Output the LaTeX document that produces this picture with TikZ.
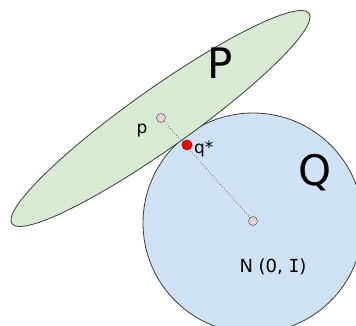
\documentclass[tikz,border=0pt]{standalone}
\usepackage{fontspec}
\setmainfont{DejaVu Sans}
\newfontfamily\monoI{DejaVu Sans Mono}
\usepackage{xcolor}
\usepackage{tikz}
\usetikzlibrary{positioning,calc}
\definecolor{pgreen}{RGB}{217, 234, 211}
\definecolor{qblue}{RGB}{207, 226, 243}
\definecolor{dotpink}{RGB}{234, 209, 220}
\definecolor{edgegray}{RGB}{60, 60, 60}
\tikzset{
  pregion/.style={
    draw=edgegray,
    line width=0.8pt,
    fill=pgreen
  },
  qregion/.style={
    draw=edgegray,
    line width=0.8pt,
    fill=qblue
  },
  sampledot/.style={
    circle,
    draw=black!60,
    line width=0.6pt,
    fill=dotpink,
    inner sep=0pt,
    minimum size=9pt
  },
  optdot/.style={
    circle,
    draw=red!60!black,
    line width=0.6pt,
    fill=red,
    inner sep=0pt,
    minimum size=10pt
  },
  distline/.style={
    draw=black!60,
    line width=0.7pt,
    dash pattern=on 0.8pt off 2.2pt
  }
}

\begin{document}
\begin{tikzpicture}[x=1pt, y=1pt]
  \useasboundingbox (0,0) rectangle (356,325);
  % the two distributions
  \draw[qregion] (253,102) circle (110);
  \draw[pregion, rotate around={35.3:(160.5,206.5)}] (160.5,206.5) ellipse (182 and 30);

  \node[font=\fontsize{42}{42}\selectfont] (plabel) at (220,262) {P};
  \node[font=\fontsize{42}{42}\selectfont] (qlabel) at (315,152) {Q};

  % points and their distance
  \node[sampledot] (p) at (161,207) {};
  \node[sampledot] (n) at (253,104) {};
  \draw[distline] (p) -- (n);
  \node[optdot] (qstar) at (187,180) {};

  \node[font=\fontsize{17}{17}\selectfont] (ptext) at (142,194) {p};
  \node[font=\fontsize{17}{17}\selectfont, anchor=west, inner sep=0pt] (qtext) at (194,176) {q*};
  \node[font=\fontsize{18}{18}\selectfont] (ntext) at (273,58) {N (0, {\monoI I})};
\end{tikzpicture}
\end{document}
